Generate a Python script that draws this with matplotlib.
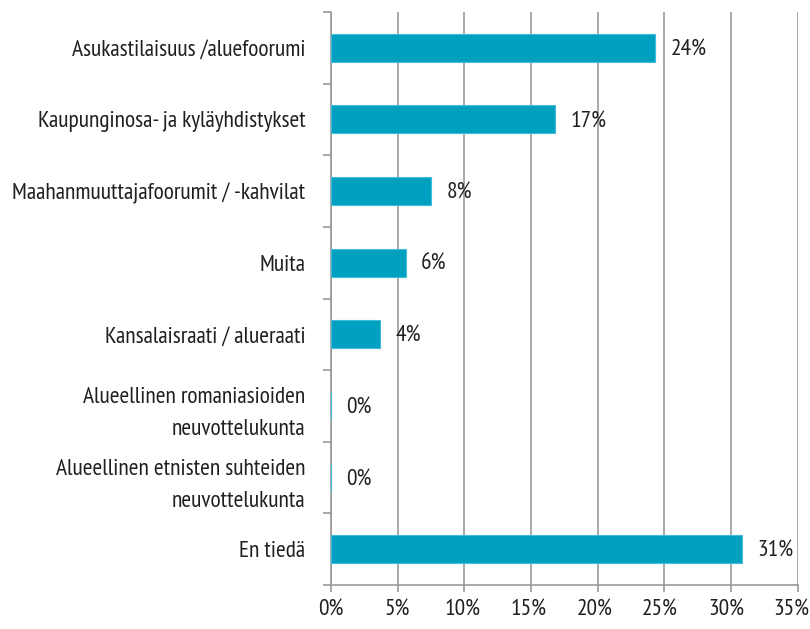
import matplotlib
matplotlib.use('Agg')
import matplotlib.pyplot as plt
import matplotlib.transforms as mtransforms
import numpy as np

# data, top to bottom as in the chart
categories = ['Asukastilaisuus /aluefoorumi',
              'Kaupunginosa- ja kyläyhdistykset',
              'Maahanmuuttajafoorumit / -kahvilat',
              'Muita',
              'Kansalaisraati / alueraati',
              'Alueellinen romaniasioiden\nneuvottelukunta',
              'Alueellinen etnisten suhteiden\nneuvottelukunta',
              'En tiedä']
values = [24.3, 16.8, 7.5, 5.6, 3.7, 0.0, 0.0, 30.8]
value_labels = ['24%', '17%', '8%', '6%', '4%', '0%', '0%', '31%']
xticks = [0, 5, 10, 15, 20, 25, 30, 35]

plt.rcParams['font.family'] = ['PT Sans Narrow', 'Roboto Condensed', 'DejaVu Sans']

txt = '#231f20'
grid = '#9a9a9a'
fs = 16.8

fig = plt.figure(figsize=(8.1, 6.29), dpi=100)
ax = fig.add_axes([331/810, 1-585/629, (797.7-331)/810, (585-12)/629])

y = np.arange(len(categories))
ax.barh(y, values, height=0.39, color='#00a0c1', edgecolor='#40bcd8', linewidth=0.8, zorder=3)

for yi, v, lab in zip(y, values, value_labels):
    ax.annotate(lab, (v, yi), xytext=(11, -1), textcoords='offset points',
                va='center', ha='left', fontsize=fs, color=txt, zorder=4)

ax.set_xlim(0, 35)
ax.set_ylim(len(categories) - 0.5, -0.5)
ax.set_xticks(xticks)
ax.set_xticklabels([f'{t}%' for t in xticks])
ax.set_yticks(y)
ax.set_yticklabels(categories, linespacing=1.66)
ax.set_yticks(np.arange(-0.5, len(categories)), minor=True)

ax.tick_params(axis='y', which='major', length=0, pad=18.5, labelsize=fs, labelcolor=txt)
ax.tick_params(axis='y', which='minor', length=5.5, width=1.2, color=grid, direction='out')
ax.tick_params(axis='x', length=5, width=1.2, color=grid, pad=5, labelsize=fs, labelcolor=txt)

# the x labels drift a little left of their gridlines in the original
for k, lbl in enumerate(ax.get_xticklabels()):
    lbl.set_transform(lbl.get_transform() +
                      mtransforms.ScaledTranslation(-0.0085 * k, 0, fig.dpi_scale_trans))

ax.grid(axis='x', color=grid, linewidth=1.2, zorder=0)
for s in ['top', 'right']:
    ax.spines[s].set_visible(False)
for s in ['left', 'bottom']:
    ax.spines[s].set_color(grid)
    ax.spines[s].set_linewidth(1.2)

fig.savefig('out.png', dpi=100)
